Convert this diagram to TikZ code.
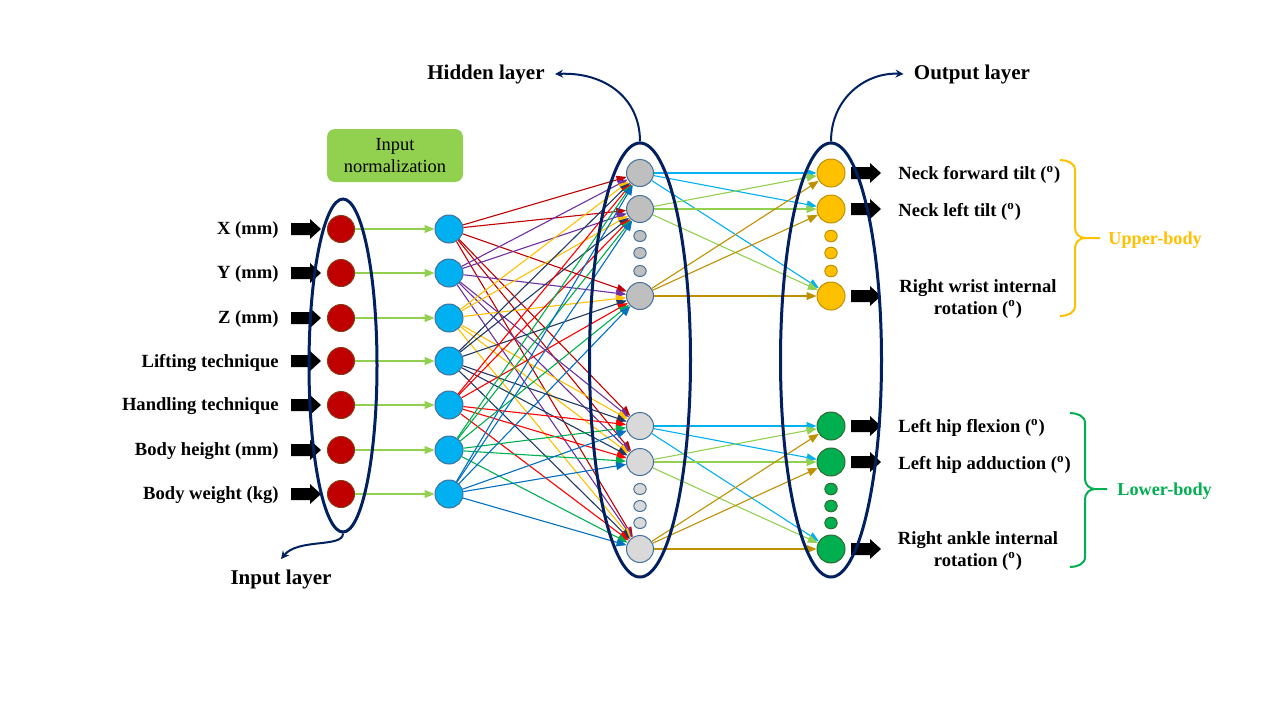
\documentclass[tikz,border=0pt]{standalone}
\usepackage{fontspec}
\setmainfont{Liberation Serif}
\usetikzlibrary{arrows.meta,shapes.geometric}
\definecolor{navy}{HTML}{002060}
\definecolor{cRed}{HTML}{C00000}
\definecolor{cRedB}{HTML}{8A3A14}
\definecolor{cBlue}{HTML}{00B0F0}
\definecolor{cBord}{HTML}{41719C}
\definecolor{hidU}{HTML}{BFBFBF}
\definecolor{hidL}{HTML}{D9D9D9}
\definecolor{cYel}{HTML}{FFC000}
\definecolor{cYelB}{HTML}{BF9000}
\definecolor{cGrn}{HTML}{00B050}
\definecolor{cGrnB}{HTML}{2E6B30}
\definecolor{lgreen}{HTML}{92D050}
\definecolor{lc1}{HTML}{C00000}
\definecolor{lc2}{HTML}{7030A0}
\definecolor{lc3}{HTML}{FFC000}
\definecolor{lc4}{HTML}{1F3864}
\definecolor{lc5}{HTML}{FF0000}
\definecolor{lc6}{HTML}{00B050}
\definecolor{lc7}{HTML}{0070C0}
\definecolor{hc1}{HTML}{00B0F0}
\definecolor{hc2}{HTML}{92D050}
\definecolor{hc3}{HTML}{BF9000}
\newcommand\blockarr[1]{\fill[black, shift={(#1)}] (0,-6) -- (19,-6) -- (19,-10) -- (30,0) -- (19,10) -- (19,6) -- (0,6) -- cycle;}
\begin{document}
\begin{tikzpicture}[x=0.5pt,y=-0.5pt,
  inp/.style={circle, minimum size=13.5pt, inner sep=0pt, fill=cRed, draw=cRedB, line width=0.5pt},
  nrm/.style={circle, minimum size=14pt, inner sep=0pt, fill=cBlue, draw=cBord, line width=0.5pt},
  hidbig/.style={circle, minimum size=13.5pt, inner sep=0pt, draw=cBord, line width=0.5pt},
  hiddot/.style={ellipse, minimum width=6.2pt, minimum height=5.5pt, inner sep=0pt, draw=cBord, line width=0.5pt},
  outbig/.style={circle, minimum size=14pt, inner sep=0pt, line width=0.5pt},
  outdot/.style={ellipse, minimum width=6.2pt, minimum height=5.8pt, inner sep=0pt, line width=0.5pt},
  lab/.style={font=\fontsize{9.3}{11}\selectfont\bfseries, inner sep=0pt},
  layerlab/.style={font=\fontsize{10.5}{12}\selectfont\bfseries, inner sep=5pt},
  conn/.style={line width=0.55pt, -{Triangle[length=5pt,width=4pt]}},
  bigell/.style={ellipse, draw=navy, line width=1.5pt, inner sep=0pt},
  layerarrow/.style={draw=navy, line width=1pt, -{Stealth[length=4pt,width=4pt]}}
]
\useasboundingbox (0,0) rectangle (1280,720);

% normalization box
\node[fill=lgreen, rounded corners=4pt, minimum width=68pt, minimum height=26.5pt, inner sep=0pt, align=center,
      font=\fontsize{9.2}{11}\selectfont] (norm) at (395,155.5) {Input\\normalization};

% input and normalized nodes
\foreach \y/\t [count=\i] in {229/X (mm), 273/Y (mm), 318/Z (mm), 361/Lifting technique,
    405/Handling technique, 450/Body height (mm), 494/Body weight (kg)} {
  \node[inp] (r\i) at (341,\y) {};
  \node[nrm] (b\i) at (449,\y) {};
  \node[lab, anchor=east] (l\i) at (279,\y+1.5) {\t};
  \blockarr{291,\y}
  \draw[conn, lgreen] (r\i) -- (b\i);
}

% hidden nodes
\foreach \y [count=\i] in {173,209,296} {\node[hidbig, fill=hidU] (h\i) at (640,\y) {};}
\foreach \y [count=\i from 4] in {426,462,549} {\node[hidbig, fill=hidL] (h\i) at (640,\y) {};}
\foreach \y [count=\i] in {236,253,271} {\node[hiddot, fill=hidU] (hd\i) at (640,\y) {};}
\foreach \y [count=\i from 4] in {489,506,523} {\node[hiddot, fill=hidL] (hd\i) at (640,\y) {};}

% output nodes
\foreach \y [count=\i] in {173,209,296} {\node[outbig, fill=cYel, draw=cYelB] (o\i) at (831,\y) {};}
\foreach \y [count=\i from 4] in {426,462,549} {\node[outbig, fill=cGrn, draw=cGrnB] (o\i) at (831,\y) {};}
\foreach \y [count=\i] in {236,253,271} {\node[outdot, fill=cYel, draw=cYelB] (od\i) at (831,\y) {};}
\foreach \y [count=\i from 4] in {489,506,523} {\node[outdot, fill=cGrn, draw=cGrnB] (od\i) at (831,\y) {};}

% output arrows
\foreach \y in {173,209,296,426,462,549} {\blockarr{851,\y}}

% connections normalized -> hidden
\foreach \i in {1,...,7} {
  \foreach \j in {1,...,6} {
    \draw[conn, lc\i] (b\i) -- (h\j);
  }
}

% connections hidden -> output
\foreach \a/\c/\g in {1/hc1/0,2/hc2/0,3/hc3/0,4/hc1/3,5/hc2/3,6/hc3/3} {
  \foreach \k in {1,2,3} {
    \pgfmathtruncatemacro\tgt{\g+\k}
    \draw[conn, \c] (h\a) -- (o\tgt);
  }
}

% output labels
\node[lab, anchor=west] (t1) at (898,175) {Neck forward tilt (\textsuperscript{o})};
\node[lab, anchor=west] (t2) at (898,212) {Neck left tilt (\textsuperscript{o})};
\node[lab, align=center, font=\fontsize{9.3}{11}\selectfont\bfseries] (t3) at (978,299) {Right wrist internal\\rotation (\textsuperscript{o})};
\node[lab, anchor=west] (t4) at (898,428) {Left hip flexion (\textsuperscript{o})};
\node[lab, anchor=west] (t5) at (898,465) {Left hip adduction (\textsuperscript{o})};
\node[lab, align=center, font=\fontsize{9.3}{11}\selectfont\bfseries] (t6) at (978,551) {Right ankle internal\\rotation (\textsuperscript{o})};

% braces
\draw[cYel, line width=1pt] (1060,160) to[out=0,in=90] (1075,170) -- (1075,228) to[out=-90,in=180] (1085,238) -- (1100,238);
\draw[cYel, line width=1pt] (1060,316) to[out=0,in=-90] (1075,306) -- (1075,248) to[out=90,in=180] (1085,238);
\node[lab, anchor=west, text=cYel, font=\fontsize{9.1}{11}\selectfont\bfseries] (ub) at (1108,240) {Upper-body};
\draw[cGrn, line width=1pt] (1070,413) to[out=0,in=90] (1085,423) -- (1085,479) to[out=-90,in=180] (1095,489) -- (1107,489);
\draw[cGrn, line width=1pt] (1070,567) to[out=0,in=-90] (1085,557) -- (1085,499) to[out=90,in=180] (1095,489);
\node[lab, anchor=west, text=cGrn, font=\fontsize{9.1}{11}\selectfont\bfseries] (lb) at (1117,491) {Lower-body};

% layer ellipses
\node[bigell, minimum width=34pt, minimum height=166.5pt] (E1) at (343,365.5) {};
\node[bigell, minimum width=50.5pt, minimum height=217pt] (E2) at (640,360) {};
\node[bigell, minimum width=50.5pt, minimum height=217pt] (E3) at (831,360) {};

% layer labels
\node[layerlab] (HL) at (486,74) {Hidden layer};
\node[layerlab] (OL) at (972,74) {Output layer};
\node[layerlab] (IL) at (281,579) {Input layer};
\draw[layerarrow] (E2.north) .. controls (640,98) and (605,72) .. (HL.east);
\draw[layerarrow] (E3.north) .. controls (831,98) and (866,72) .. (OL.west);
\draw[layerarrow] (E1.south) .. controls (343,548) and (298,538) .. (IL.north);
\end{tikzpicture}
\end{document}
